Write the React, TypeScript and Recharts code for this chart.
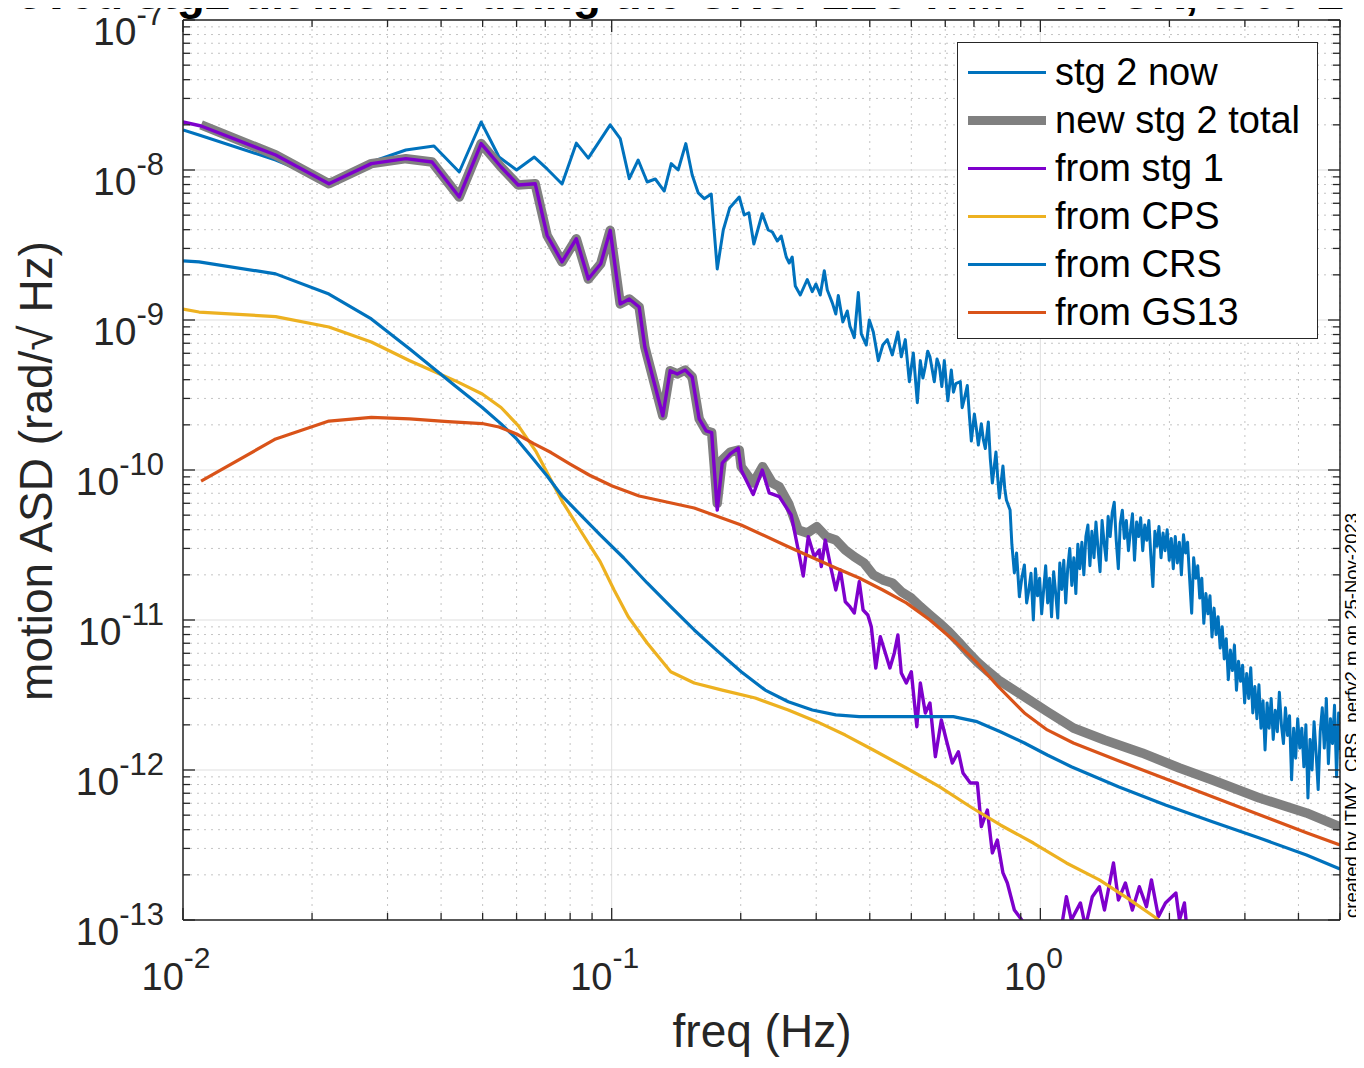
import React from "react";
import { LineChart, Line, XAxis, YAxis, ReferenceLine, Legend } from "recharts";

const W = 1364;
const H = 1068;
const FONT = '"Liberation Sans", Arial, Helvetica, sans-serif';
const AXIS = "#262626";

// axis decades / minor steps
const xDecades = [-2, -1, 0];
const yDecades = [-13, -12, -11, -10, -9, -8];
const steps = [1, 2, 3, 4, 5, 6, 7, 8, 9];
const xDomain = [0.01, 5];
const yDomain = [1e-13, 1e-7];

// [freq (Hz), ASD (rad/sqrt Hz)]
const stg2Now = [
  [0.01, 1.85e-8], [0.0109, 1.71e-8], [0.01645, 1.166e-8], [0.0219, 8.32e-9], [0.0275, 1.13e-8],
  [0.0331, 1.36e-8], [0.0385, 1.445e-8], [0.0441, 9.7e-9], [0.0496, 2.09e-8], [0.0546, 1.22e-8],
  [0.06, 1.0e-8], [0.066, 1.22e-8], [0.0707, 1.016e-8], [0.0766, 8.07e-9], [0.0827, 1.51e-8],
  [0.0882, 1.2e-8], [0.0992, 2.0e-8], [0.1047, 1.62e-8], [0.1099, 8.76e-9], [0.1153, 1.166e-8],
  [0.121, 8.32e-9], [0.1264, 8.71e-9], [0.1326, 7.24e-9], [0.1377, 1.103e-8], [0.1429, 1.0e-8],
  [0.1489, 1.5e-8], [0.1541, 9.26e-9], [0.1592, 7.03e-9], [0.1644, 6.44e-9], [0.1707, 6.92e-9],
  [0.1763, 2.19e-9], [0.1821, 3.98e-9], [0.1886, 5.61e-9], [0.1984, 6.61e-9], [0.2038, 5.01e-9],
  [0.2089, 5.19e-9], [0.2146, 3.21e-9], [0.2245, 5.11e-9], [0.2318, 3.98e-9], [0.237, 3.86e-9],
  [0.2434, 3.36e-9], [0.2486, 3.63e-9], [0.2554, 2.63e-9], [0.2595, 2.4e-9], [0.2637, 2.63e-9],
  [0.2681, 1.685e-9], [0.2754, 1.468e-9], [0.2859, 1.862e-9], [0.2937, 1.545e-9], [0.2996, 1.738e-9],
  [0.3066, 1.468e-9], [0.3133, 2.13e-9], [0.3184, 1.585e-9], [0.3271, 1.3e-9], [0.3333, 1.096e-9],
  [0.3378, 1.456e-9], [0.3461, 9.7e-10], [0.3545, 1.148e-9], [0.3595, 9.12e-10], [0.3681, 7.63e-10],
  [0.3761, 1.525e-9], [0.3822, 8.07e-10], [0.3926, 6.81e-10], [0.399, 1.0e-9], [0.4077, 8.32e-10],
  [0.4188, 5.36e-10], [0.429, 6.81e-10], [0.4395, 7.4e-10], [0.4515, 5.85e-10], [0.4652, 8.32e-10],
  [0.4738, 5.68e-10], [0.4841, 7.4e-10], [0.4947, 3.88e-10], [0.5054, 6.03e-10], [0.5164, 2.81e-10],
  [0.5248, 5.36e-10], [0.532, 4.1e-10], [0.5391, 4.93e-10], [0.546, 6.2e-10], [0.5526, 5.68e-10],
  [0.5658, 3.88e-10], [0.574, 5.5e-10], [0.5813, 4.93e-10], [0.589, 3.6e-10], [0.597, 5.36e-10],
  [0.6083, 2.89e-10], [0.6199, 4.64e-10], [0.627, 3.3e-10], [0.635, 3.77e-10], [0.6505, 3.88e-10],
  [0.657, 2.6e-10], [0.6646, 2.97e-10], [0.6754, 3.66e-10], [0.683, 2.3e-10], [0.6902, 1.56e-10],
  [0.7015, 2.36e-10], [0.709, 1.9e-10], [0.7167, 1.468e-10], [0.7283, 2.035e-10], [0.736, 1.6e-10],
  [0.7441, 1.389e-10], [0.7562, 2.09e-10], [0.764, 1.2e-10], [0.7727, 8.19e-11], [0.7878, 1.318e-10],
  [0.795, 9.0e-11], [0.8023, 6.51e-11], [0.818, 1.063e-10], [0.826, 7.5e-11], [0.8332, 6.31e-11],
  [0.8499, 5.41e-11], [0.858, 3.2e-11], [0.8696, 2.06e-11], [0.88, 2.8e-11], [0.8933, 1.43e-11],
  [0.905, 1.9e-11], [0.9178, 2.33e-11], [0.929, 1.3e-11], [0.94, 1.585e-11], [0.951, 2.05e-11],
  [0.963, 1.0e-11], [0.974, 2.2e-11], [0.985, 1.45e-11], [0.996, 1.9e-11], [1.007, 1.1e-11],
  [1.018, 1.6e-11], [1.029, 2.3e-11], [1.04, 1.3e-11], [1.051, 1.9e-11], [1.062, 1.05e-11],
  [1.074, 2.1e-11], [1.086, 1.5e-11], [1.098, 1.03e-11], [1.11, 2.4e-11], [1.122, 1.6e-11],
  [1.134, 2.5e-11], [1.146, 1.3e-11], [1.158, 2.2e-11], [1.171, 3.0e-11], [1.184, 1.7e-11],
  [1.197, 2.6e-11], [1.21, 1.5e-11], [1.223, 3.2e-11], [1.236, 2.2e-11], [1.25, 3.3e-11],
  [1.263, 2.0e-11], [1.277, 3.6e-11], [1.291, 4.3e-11], [1.305, 2.3e-11], [1.319, 3.9e-11],
  [1.334, 2.6e-11], [1.348, 4.5e-11], [1.363, 3.0e-11], [1.378, 2.1e-11], [1.393, 4.6e-11],
  [1.408, 3.3e-11], [1.424, 2.5e-11], [1.439, 4.9e-11], [1.455, 3.6e-11], [1.471, 5.2e-11],
  [1.487, 6.1e-11], [1.503, 3.4e-11], [1.52, 2.2e-11], [1.536, 4.4e-11], [1.553, 5.4e-11],
  [1.57, 3.5e-11], [1.587, 4.6e-11], [1.605, 2.9e-11], [1.622, 3.9e-11], [1.64, 5.1e-11],
  [1.658, 2.5e-11], [1.677, 4.5e-11], [1.695, 3.6e-11], [1.714, 4.8e-11], [1.733, 2.9e-11],
  [1.752, 4.3e-11], [1.771, 3.4e-11], [1.791, 4.6e-11], [1.81, 2.7e-11], [1.83, 1.67e-11],
  [1.85, 3.9e-11], [1.871, 3.1e-11], [1.891, 4.2e-11], [1.912, 2.6e-11], [1.933, 3.8e-11],
  [1.954, 2.9e-11], [1.976, 4.0e-11], [1.998, 2.5e-11], [2.02, 3.5e-11], [2.042, 2.2e-11],
  [2.064, 3.6e-11], [2.087, 2.4e-11], [2.11, 3.3e-11], [2.133, 2.0e-11], [2.157, 3.7e-11],
  [2.181, 2.8e-11], [2.205, 3.3e-11], [2.229, 1.9e-11], [2.254, 1.11e-11], [2.278, 2.6e-11],
  [2.303, 1.9e-11], [2.329, 2.3e-11], [2.354, 1.4e-11], [2.38, 1.9e-11], [2.406, 9.5e-12],
  [2.433, 1.5e-11], [2.46, 1.1e-11], [2.487, 1.45e-11], [2.514, 7.7e-12], [2.542, 1.2e-11],
  [2.57, 8.0e-12], [2.598, 1.05e-11], [2.627, 6.5e-12], [2.656, 9.0e-12], [2.685, 5.5e-12],
  [2.714, 7.5e-12], [2.744, 4.0e-12], [2.775, 6.3e-12], [2.805, 4.6e-12], [2.836, 6.8e-12],
  [2.867, 3.4e-12], [2.899, 5.3e-12], [2.931, 3.9e-12], [2.963, 5.0e-12], [2.996, 2.8e-12],
  [3.029, 4.4e-12], [3.062, 3.0e-12], [3.096, 4.8e-12], [3.13, 2.4e-12], [3.165, 3.6e-12],
  [3.2, 2.2e-12], [3.235, 3.7e-12], [3.271, 1.9e-12], [3.307, 2.9e-12], [3.343, 1.36e-12],
  [3.38, 2.8e-12], [3.417, 1.9e-12], [3.455, 3.0e-12], [3.493, 1.6e-12], [3.532, 2.5e-12],
  [3.571, 1.8e-12], [3.61, 3.3e-12], [3.65, 2.0e-12], [3.69, 1.5e-12], [3.73, 2.6e-12],
  [3.772, 1.7e-12], [3.813, 2.3e-12], [3.855, 8.6e-13], [3.898, 1.9e-12], [3.941, 1.2e-12],
  [3.984, 2.2e-12], [4.028, 1.4e-12], [4.073, 1.9e-12], [4.118, 1.05e-12], [4.163, 2.0e-12],
  [4.209, 6.5e-13], [4.256, 1.6e-12], [4.303, 1.0e-12], [4.35, 2.1e-12], [4.398, 1.3e-12],
  [4.447, 7.4e-13], [4.496, 1.8e-12], [4.546, 2.6e-12], [4.596, 1.4e-12], [4.646, 3.0e-12],
  [4.698, 1.1e-12], [4.75, 2.2e-12], [4.802, 1.5e-12], [4.855, 2.7e-12], [4.909, 9.0e-13],
  [4.963, 2.4e-12], [5.0, 1.36e-12],
];

const newStg2Total = [
  [0.01102, 2.0e-8], [0.01645, 1.259e-8], [0.0219, 8.1e-9], [0.0275, 1.103e-8], [0.0331, 1.19e-8],
  [0.0381, 1.13e-8], [0.0441, 6.61e-9], [0.0496, 1.5e-8], [0.0552, 1.047e-8], [0.0605, 7.94e-9],
  [0.0663, 8.1e-9], [0.0707, 3.66e-9], [0.0766, 2.44e-9], [0.0827, 3.48e-9], [0.0882, 1.877e-9],
  [0.0943, 2.37e-9], [0.0992, 3.96e-9], [0.1047, 1.28e-9], [0.1099, 1.38e-9], [0.1159, 1.221e-9],
  [0.1195, 6.61e-10], [0.1316, 2.3e-10], [0.1369, 4.59e-10], [0.1422, 4.37e-10], [0.1484, 4.64e-10],
  [0.1541, 4.17e-10], [0.16, 2.19e-10], [0.1661, 1.825e-10], [0.1711, 1.778e-10], [0.1763, 6.0e-11],
  [0.1811, 1.166e-10], [0.1891, 1.318e-10], [0.1984, 1.36e-10], [0.2005, 1.052e-10], [0.2139, 8.19e-11],
  [0.225, 1.052e-10], [0.237, 8.19e-11], [0.246, 7.74e-11], [0.2582, 6.03e-11], [0.2724, 3.98e-11],
  [0.2859, 3.8e-11], [0.301, 4.19e-11], [0.3167, 3.59e-11], [0.3333, 3.41e-11], [0.3507, 2.93e-11],
  [0.3681, 2.64e-11], [0.3878, 2.4e-11], [0.4077, 2.0e-11], [0.429, 1.85e-11], [0.4515, 1.765e-11],
  [0.4738, 1.545e-11], [0.5, 1.4e-11], [0.5248, 1.227e-11], [0.5526, 1.08e-11], [0.5813, 9.55e-12],
  [0.6117, 8.36e-12], [0.6437, 7.17e-12], [0.6754, 6.15e-12], [0.7118, 5.27e-12], [0.7482, 4.64e-12],
  [0.798, 3.98e-12], [0.9178, 3.08e-12], [1.038, 2.45e-12], [1.194, 1.905e-12], [1.411, 1.585e-12],
  [1.726, 1.3e-12], [2.111, 1.031e-12], [2.52, 8.58e-13], [3.244, 6.51e-13], [4.176, 5.17e-13],
  [5.0, 4.17e-13],
];

const fromStg1 = [
  [0.01, 2.09e-8], [0.01102, 1.965e-8], [0.01645, 1.259e-8], [0.0219, 8.1e-9], [0.0275, 1.103e-8],
  [0.0331, 1.19e-8], [0.0381, 1.13e-8], [0.0441, 6.61e-9], [0.0496, 1.5e-8], [0.0552, 1.047e-8],
  [0.0605, 7.94e-9], [0.0663, 8.1e-9], [0.0707, 3.66e-9], [0.0766, 2.44e-9], [0.0827, 3.48e-9],
  [0.0882, 1.877e-9], [0.0943, 2.37e-9], [0.0992, 3.96e-9], [0.1047, 1.28e-9], [0.1099, 1.38e-9],
  [0.1159, 1.221e-9], [0.1195, 6.61e-10], [0.1316, 2.3e-10], [0.1369, 4.59e-10], [0.1422, 4.37e-10],
  [0.1484, 4.64e-10], [0.1541, 4.17e-10], [0.16, 2.19e-10], [0.1661, 1.825e-10], [0.1711, 1.778e-10],
  [0.1763, 5.41e-11], [0.1811, 1.113e-10], [0.1891, 1.279e-10], [0.1973, 1.4e-10], [0.2005, 1.0e-10],
  [0.2139, 6.87e-11], [0.2245, 1.0e-10], [0.2331, 7.03e-11], [0.246, 6.64e-11], [0.2623, 5.01e-11],
  [0.2724, 2.93e-11], [0.2798, 1.965e-11], [0.2875, 3.59e-11], [0.2969, 2.64e-11], [0.305, 2.93e-11],
  [0.3083, 2.27e-11], [0.315, 3.41e-11], [0.3254, 2.154e-11], [0.3333, 1.585e-11], [0.3415, 2.154e-11],
  [0.3507, 1.324e-11], [0.3595, 1.227e-11], [0.3681, 1.113e-11], [0.3781, 1.8e-11], [0.3859, 1.166e-11],
  [0.3958, 1.08e-11], [0.4033, 9.02e-12], [0.4131, 4.79e-12], [0.4233, 7.74e-12], [0.4349, 6.03e-12],
  [0.4457, 4.79e-12], [0.4564, 6.03e-12], [0.4652, 7.94e-12], [0.4738, 4.43e-12], [0.4867, 3.8e-12],
  [0.5, 4.52e-12], [0.515, 1.944e-12], [0.5248, 3.8e-12], [0.5391, 2.4e-12], [0.5526, 2.8e-12],
  [0.5689, 1.227e-12], [0.5875, 2.154e-12], [0.6034, 1.585e-12], [0.6232, 1.113e-12], [0.6437, 1.324e-12],
  [0.6599, 9.55e-13], [0.6864, 8.19e-13], [0.7129, 8.19e-13], [0.7283, 4.19e-13], [0.7522, 5.41e-13],
  [0.7727, 2.8e-13], [0.7936, 3.41e-13], [0.818, 2.06e-13], [0.8375, 1.765e-13], [0.8696, 1.166e-13],
  [0.9053, 1.0e-13], [0.948, 7.0e-14], [1.027, 9.5e-14], [1.067, 6.0e-14], [1.113, 8.0e-14],
  [1.15, 1.43e-13], [1.181, 1.0e-13], [1.24, 1.3e-13], [1.274, 9.0e-14], [1.322, 1.43e-13],
  [1.373, 1.667e-13], [1.411, 1.166e-13], [1.481, 2.4e-13], [1.521, 1.36e-13], [1.579, 1.765e-13],
  [1.639, 1.166e-13], [1.702, 1.667e-13], [1.768, 1.227e-13], [1.816, 1.85e-13], [1.885, 1.052e-13],
  [1.958, 1.3e-13], [2.071, 1.514e-13], [2.111, 1.0e-13], [2.168, 1.3e-13], [2.203, 8.0e-14],
];

const fromCPS = [
  [0.01, 1.184e-9], [0.0109, 1.13e-9], [0.01645, 1.053e-9], [0.0219, 8.98e-10], [0.0275, 7.13e-10],
  [0.0338, 5.35e-10], [0.0431, 3.94e-10], [0.0499, 3.21e-10], [0.0552, 2.61e-10], [0.0606, 1.97e-10],
  [0.0665, 1.338e-10], [0.0766, 6.21e-11], [0.0844, 3.98e-11], [0.094, 2.45e-11], [0.1013, 1.585e-11],
  [0.1093, 1.052e-11], [0.121, 7.03e-12], [0.1373, 4.52e-12], [0.1558, 3.8e-12], [0.1811, 3.41e-12],
  [0.2162, 3.02e-12], [0.2582, 2.51e-12], [0.301, 2.1e-12], [0.3507, 1.71e-12], [0.4077, 1.36e-12],
  [0.4867, 1.031e-12], [0.5813, 7.74e-13], [0.6939, 5.58e-13], [0.8066, 4.3e-13], [0.9632, 3.26e-13],
  [1.15, 2.4e-13], [1.373, 1.85e-13], [1.596, 1.4e-13], [1.862, 1.031e-13], [1.958, 9.0e-14],
];

const fromCRS = [
  [0.01, 2.48e-9], [0.0109, 2.44e-9], [0.01645, 2.03e-9], [0.0219, 1.49e-9], [0.0275, 1.016e-9],
  [0.0338, 6.41e-10], [0.0431, 3.65e-10], [0.0499, 2.61e-10], [0.0552, 2.03e-10], [0.06, 1.61e-10],
  [0.0652, 1.211e-10], [0.0707, 9.12e-11], [0.0766, 6.71e-11], [0.094, 3.69e-11], [0.1067, 2.59e-11],
  [0.121, 1.765e-11], [0.1373, 1.227e-11], [0.1558, 8.58e-12], [0.1772, 6.15e-12], [0.2005, 4.52e-12],
  [0.2281, 3.41e-12], [0.2582, 2.85e-12], [0.2937, 2.51e-12], [0.3333, 2.33e-12], [0.3781, 2.27e-12],
  [0.429, 2.27e-12], [0.4867, 2.27e-12], [0.5526, 2.27e-12], [0.6266, 2.27e-12], [0.7118, 2.1e-12],
  [0.8066, 1.8e-12], [0.9178, 1.514e-12], [1.038, 1.259e-12], [1.181, 1.052e-12], [1.521, 7.74e-13],
  [1.958, 5.85e-13], [2.52, 4.52e-13], [3.244, 3.52e-13], [4.176, 2.71e-13], [5.0, 2.19e-13],
];

const fromGS13 = [
  [0.01102, 8.44e-11], [0.01645, 1.61e-10], [0.0219, 2.12e-10], [0.0275, 2.24e-10], [0.0338, 2.19e-10],
  [0.0415, 2.1e-10], [0.0499, 2.04e-10], [0.0546, 1.935e-10], [0.06, 1.738e-10], [0.0658, 1.5e-10],
  [0.0722, 1.308e-10], [0.08, 1.096e-10], [0.0886, 9.26e-11], [0.1003, 7.82e-11], [0.1159, 6.71e-11],
  [0.1558, 5.58e-11], [0.2005, 4.3e-11], [0.2582, 3.08e-11], [0.3333, 2.22e-11], [0.3781, 1.905e-11],
  [0.429, 1.585e-11], [0.4867, 1.3e-11], [0.5526, 1.0e-11], [0.6266, 7.36e-12], [0.7118, 5.17e-12],
  [0.798, 3.59e-12], [0.9178, 2.4e-12], [1.038, 1.85e-12], [1.194, 1.514e-12], [1.521, 1.153e-12],
  [1.958, 8.75e-13], [2.52, 6.64e-13], [3.244, 5.04e-13], [4.176, 3.82e-13], [5.0, 3.16e-13],
];

const SERIES = [
  { name: "stg 2 now", data: stg2Now, color: "#0072BD", width: 3, legend: 3 },
  { name: "new stg 2 total", data: newStg2Total, color: "#808080", width: 9.5, legend: 9 },
  { name: "from stg 1", data: fromStg1, color: "#7E00CC", width: 3.4, legend: 3 },
  { name: "from CPS", data: fromCPS, color: "#EDB120", width: 3.2, legend: 3 },
  { name: "from CRS", data: fromCRS, color: "#0072BD", width: 3.2, legend: 3 },
  { name: "from GS13", data: fromGS13, color: "#D95319", width: 3.2, legend: 3 },
];

const mk = (decades: number[], maxV: number) => {
  const out: number[] = [];
  decades.forEach((d) =>
    steps.forEach((m) => {
      const v = Number((m * Math.pow(10, d)).toPrecision(6));
      if (v <= maxV) out.push(v);
    })
  );
  return out;
};
const xTicks = mk(xDecades, xDomain[1]);
const yTicks = [...mk(yDecades, yDomain[1]), yDomain[1]];

const isMajor = (v: number) => {
  const l = Math.log10(v);
  return Math.abs(l - Math.round(l)) < 1e-6;
};
const expOf = (v: number) => String(Math.round(Math.log10(v)));

const XTick = (p: any) => {
  const { x, y, payload, side } = p;
  const major = isMajor(payload.value);
  const len = major ? 12 : 7;
  const dir = side === "bottom" ? -1 : 1;
  return (
    <g>
      <line x1={x} x2={x} y1={y} y2={y + dir * len} stroke={AXIS} strokeWidth={1.3} />
      {side === "bottom" && major && (
        <text x={x - 7} y={y + 70} textAnchor="middle" fontFamily={FONT} fontSize={38} fill={AXIS}>
          10
          <tspan dy={-22} fontSize={30}>{expOf(payload.value)}</tspan>
        </text>
      )}
    </g>
  );
};

const YTick = (p: any) => {
  const { x, y, payload, side } = p;
  const major = isMajor(payload.value);
  const len = major ? 12 : 7;
  const dir = side === "left" ? 1 : -1;
  return (
    <g>
      <line x1={x} x2={x + dir * len} y1={y} y2={y} stroke={AXIS} strokeWidth={1.3} />
      {side === "left" && major && (
        <text x={x - 19} y={y + 25} textAnchor="end" fontFamily={FONT} fontSize={39} fill={AXIS}>
          10
          <tspan dy={-20} fontSize={31}>{expOf(payload.value)}</tspan>
        </text>
      )}
    </g>
  );
};

const LegendBox = (props: any) => {
  const payload = props.payload || [];
  const items = SERIES.map((s) => ({ s, item: payload.find((q: any) => q.value === s.name) })).filter(
    (r) => r.item
  );
  return (
    <div
      style={{
        width: 361,
        height: 297,
        boxSizing: "border-box",
        border: `1.5px solid ${AXIS}`,
        background: "#fff",
        paddingTop: 5,
      }}
    >
      {items.map(({ s, item }: any) => (
        <div key={item.value} style={{ display: "flex", alignItems: "center", height: 48 }}>
          <div style={{ marginLeft: 10, width: 78, height: s.legend, background: item.color }} />
          <span
            style={{
              marginLeft: 9,
              fontFamily: FONT,
              fontSize: 38,
              color: "#000",
              lineHeight: "48px",
              whiteSpace: "nowrap",
            }}
          >
            {item.value}
          </span>
        </div>
      ))}
    </div>
  );
};

const axisLine = { stroke: AXIS, strokeWidth: 1.5 };

export default function App() {
  return (
    <div style={{ position: "relative", width: W, height: H, margin: -8, fontFamily: FONT, background: "#fff" }}>
      <LineChart width={W} height={H} margin={{ top: 0, right: 0, bottom: 88, left: 123 }}>
        {xTicks.map((v) => (
          <ReferenceLine
            key={"gx" + v}
            x={v}
            stroke={isMajor(v) ? "#dfdfdf" : "#c4c4c4"}
            strokeWidth={1}
            strokeDasharray={isMajor(v) ? undefined : "2 5"}
          />
        ))}
        {yTicks.map((v) => (
          <ReferenceLine
            key={"gy" + v}
            y={v}
            stroke={isMajor(v) ? "#dfdfdf" : "#c4c4c4"}
            strokeWidth={1}
            strokeDasharray={isMajor(v) ? undefined : "2 5"}
          />
        ))}
        <XAxis
          xAxisId={0}
          orientation="bottom"
          dataKey="f"
          type="number"
          scale="log"
          domain={xDomain}
          allowDataOverflow
          ticks={xTicks}
          interval={0}
          height={60}
          tickSize={0}
          tickMargin={0}
          tickLine={false}
          axisLine={axisLine}
          tick={(p: any) => <XTick {...p} side="bottom" />}
        />
        <XAxis
          xAxisId="top"
          orientation="top"
          dataKey="f"
          type="number"
          scale="log"
          domain={xDomain}
          allowDataOverflow
          ticks={xTicks}
          interval={0}
          height={20}
          tickSize={0}
          tickMargin={0}
          tickLine={false}
          axisLine={axisLine}
          tick={(p: any) => <XTick {...p} side="top" />}
        />
        <YAxis
          yAxisId={0}
          orientation="left"
          type="number"
          scale="log"
          domain={yDomain}
          allowDataOverflow
          ticks={yTicks}
          interval={0}
          width={60}
          tickSize={0}
          tickMargin={0}
          tickLine={false}
          axisLine={axisLine}
          tick={(p: any) => <YTick {...p} side="left" />}
        />
        <YAxis
          yAxisId="right"
          orientation="right"
          type="number"
          scale="log"
          domain={yDomain}
          allowDataOverflow
          ticks={yTicks}
          interval={0}
          width={24}
          tickSize={0}
          tickMargin={0}
          tickLine={false}
          axisLine={axisLine}
          tick={(p: any) => <YTick {...p} side="right" />}
        />
        {SERIES.map((s) => (
          <Line
            key={s.name}
            name={s.name}
            data={s.data.map(([f, v]) => ({ f, v }))}
            dataKey="v"
            type="linear"
            stroke={s.color}
            strokeWidth={s.width}
            strokeLinejoin="round"
            dot={false}
            activeDot={false}
            isAnimationActive={false}
          />
        ))}
        <Legend
          layout="vertical"
          align="center"
          verticalAlign="middle"
          content={(p: any) => <LegendBox {...p} />}
          wrapperStyle={{ left: 957, top: 42, width: 361, height: 297 }}
        />
      </LineChart>
      <svg
        width={W}
        height={H}
        style={{ position: "absolute", left: 0, top: 0, pointerEvents: "none" }}
      >
        <text x={-84} y={9} fontFamily={FONT} fontWeight="bold" fontSize={46} fill="#000">
          Improved stg2 tilt motion using the CRS: LLO ITMY TX CR, t500 L
        </text>
        <text
          transform="translate(52,471) rotate(-90)"
          textAnchor="middle"
          fontFamily={FONT}
          fontSize={46}
          fill={AXIS}
        >
          motion ASD (rad/√ Hz)
        </text>
        <text x={762} y={1047} textAnchor="middle" fontFamily={FONT} fontSize={46} fill={AXIS}>
          freq (Hz)
        </text>
        <text transform="translate(1358,918) rotate(-90)" fontFamily={FONT} fontSize={18.5} fill="#000">
          created by ITMY_CRS_perfv2.m on 25-Nov-2023
        </text>
      </svg>
    </div>
  );
}
